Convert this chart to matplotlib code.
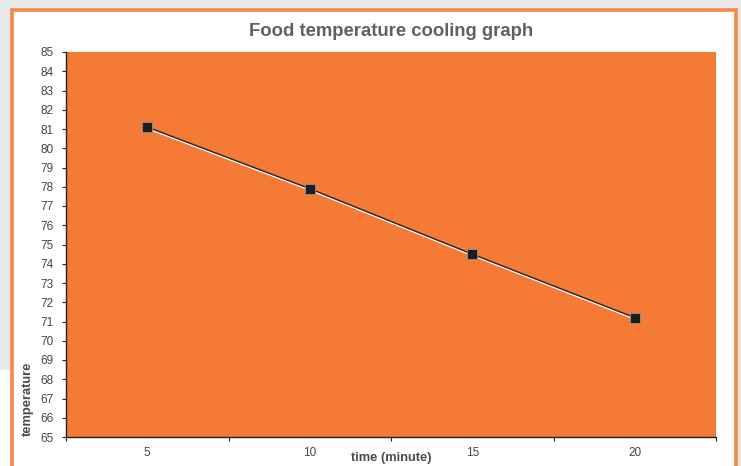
import matplotlib
matplotlib.use("Agg")
import matplotlib.pyplot as plt
import matplotlib.patheffects as pe
from matplotlib.patches import Rectangle

# data
times = ["5", "10", "15", "20"]
temps = [81.1, 77.9, 74.5, 71.2]
y_ticks = list(range(65, 86))

W, H = 741, 466
plt.rcParams['font.family'] = ['Liberation Sans', 'DejaVu Sans']

fig = plt.figure(figsize=(W / 100, H / 100), dpi=100)
fig.patch.set_facecolor("#e7e9e8")

def px(x, y, w, h):
    # pixel box (top-left origin) -> figure fraction
    return (x / W, 1 - (y + h) / H, w / W, h / H)

# white lower-left strip and the orange framed panel
x0, y0, w0, h0 = px(0, 370, 12, 96)
fig.add_artist(Rectangle((x0, y0), w0, h0, transform=fig.transFigure,
                         facecolor="white", edgecolor="none", zorder=0))
x0, y0, w0, h0 = px(11.5, 9.5, 724.5, 470)
fig.add_artist(Rectangle((x0, y0), w0, h0, transform=fig.transFigure,
                         facecolor="white", edgecolor="#f5884a", linewidth=2.6, zorder=0))

ax = fig.add_axes(px(66, 52, 650, 385))
ax.set_facecolor("#f47a36")

xs = list(range(len(times)))
ax.plot(xs, temps, color="#262626", linewidth=1.0,
        path_effects=[pe.SimpleLineShadow(offset=(0, -1), shadow_color="white", alpha=1.0),
                      pe.Normal()])
ax.plot(xs, temps, linestyle="none", marker="s", markersize=6.5,
        markerfacecolor="#1d1d1f", markeredgecolor="#8a8a8a", markeredgewidth=0.7)

ax.set_xlim(-0.5, len(times) - 0.5)
ax.set_ylim(65, 85)
ax.set_yticks(y_ticks)
ax.set_xticks([i - 0.5 for i in range(len(times) + 1)])
ax.set_xticklabels([])
ax.set_xticks(xs, minor=True)
ax.set_xticklabels(times, minor=True)

for s in ["top", "right"]:
    ax.spines[s].set_visible(False)
for s in ["left", "bottom"]:
    ax.spines[s].set_color("#222222")
    ax.spines[s].set_linewidth(1.0)

ax.tick_params(axis="y", which="major", direction="out", length=3, width=0.8,
               color="#222222", labelsize=8.5, labelcolor="#454545", pad=6)
ax.tick_params(axis="x", which="major", direction="out", length=3, width=0.8,
               color="#222222")
ax.tick_params(axis="x", which="minor", length=0, labelsize=8.5,
               labelcolor="#454545", pad=7)

fig.text(391 / W, 1 - 32 / H, "Food temperature cooling graph", ha="center", va="center",
         fontsize=13.3, fontweight="bold", color="#606060")
fig.text(391 / W, 1 - 458 / H, "time (minute)", ha="center", va="center",
         fontsize=9.3, fontweight="bold", color="#4a4a4a")
fig.text(28 / W, 1 - 399 / H, "temperature", ha="center", va="center", rotation=90,
         fontsize=9.3, fontweight="bold", color="#4a4a4a")

fig.savefig("out.png", dpi=100, facecolor=fig.get_facecolor())
